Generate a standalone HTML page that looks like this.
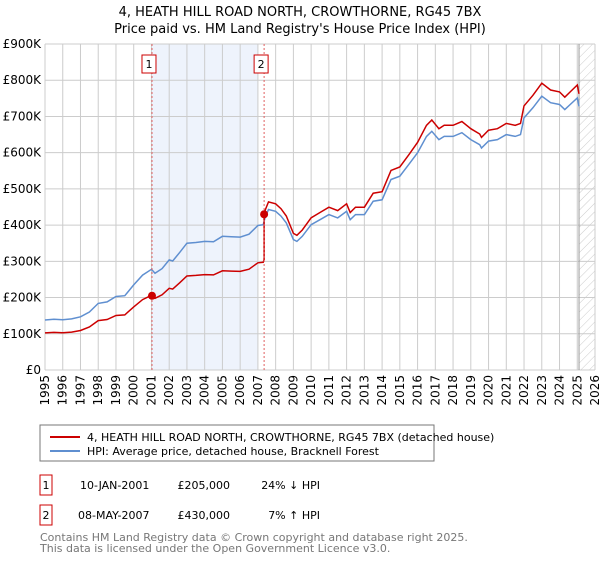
<!DOCTYPE html>
<html><head><meta charset="utf-8"><style>
body{margin:0;background:#fff;font-family:"DejaVu Sans","Liberation Sans",sans-serif;}
svg text{font-family:"DejaVu Sans","Liberation Sans",sans-serif;}
</style></head><body>
<svg id="c" width="600" height="560" xmlns="http://www.w3.org/2000/svg">
<defs><pattern id="hatch" width="6" height="6" patternUnits="userSpaceOnUse" patternTransform="rotate(45)"><line x1="0" y1="0" x2="0" y2="6" stroke="#ccc" stroke-width="1"/></pattern></defs>
<text x="300" y="16" text-anchor="middle" font-size="13">4, HEATH HILL ROAD NORTH, CROWTHORNE, RG45 7BX</text>
<text x="300" y="33" text-anchor="middle" font-size="13">Price paid vs. HM Land Registry's House Price Index (HPI)</text>
<g id="grid"></g><g id="marks"></g>
<rect x="40" y="425" width="394" height="36" fill="#fff" stroke="#777"/>
<line x1="50" y1="437" x2="80" y2="437" stroke="#cc0000" stroke-width="2"/>
<text x="87" y="441" font-size="11">4, HEATH HILL ROAD NORTH, CROWTHORNE, RG45 7BX (detached house)</text>
<line x1="50" y1="451" x2="80" y2="451" stroke="#5f8fd0" stroke-width="2"/>
<text x="87" y="455" font-size="11">HPI: Average price, detached house, Bracknell Forest</text>
<rect x="40" y="475" width="12" height="20" fill="#fff" stroke="#cc0000"/>
<text x="46" y="489" font-size="11" text-anchor="middle">1</text>
<text x="80" y="489" font-size="11">10-JAN-2001</text>
<text x="230" y="489" font-size="11" text-anchor="end">£205,000</text>
<text x="320" y="489" font-size="11" text-anchor="end">24% ↓ HPI</text>
<rect x="40" y="505" width="12" height="20" fill="#fff" stroke="#cc0000"/>
<text x="46" y="519" font-size="11" text-anchor="middle">2</text>
<text x="78" y="519" font-size="11">08-MAY-2007</text>
<text x="230" y="519" font-size="11" text-anchor="end">£430,000</text>
<text x="320" y="519" font-size="11" text-anchor="end">7% ↑ HPI</text>
<text x="40" y="541" font-size="11" fill="#777">Contains HM Land Registry data © Crown copyright and database right 2025.</text>
<text x="40" y="552" font-size="11" fill="#777">This data is licensed under the Open Government Licence v3.0.</text>
</svg>
<script>
const yTicks=[0,100,200,300,400,500,600,700,800,900];
const yTickLabels=["£0","£100K","£200K","£300K","£400K","£500K","£600K","£700K","£800K","£900K"];
const xYears=[1995,1996,1997,1998,1999,2000,2001,2002,2003,2004,2005,2006,2007,2008,2009,2010,2011,2012,2013,2014,2015,2016,2017,2018,2019,2020,2021,2022,2023,2024,2025,2026];
const hpiT=[1995,1995.5,1996,1996.5,1997,1997.5,1998,1998.5,1999,1999.5,2000,2000.5,2001,2001.2,2001.6,2002,2002.2,2002.6,2003,2003.5,2004,2004.5,2005,2005.5,2006,2006.5,2007,2007.3,2007.4,2007.6,2008,2008.3,2008.6,2009,2009.2,2009.5,2010,2010.5,2011,2011.5,2012,2012.2,2012.5,2013,2013.5,2014,2014.5,2015,2015.5,2016,2016.5,2016.8,2017.2,2017.5,2018,2018.5,2019,2019.5,2019.6,2020,2020.5,2021,2021.5,2021.8,2022,2022.5,2023,2023.5,2024,2024.3,2024.6,2025,2025.1];
const hpiV=[138,140,139,141,147,160,184,188,203,205,235,262,278,267,280,304,301,325,350,352,355,354,369,368,367,375,399,401,420,443,438,425,406,360,355,369,401,415,429,420,438,415,429,429,466,470,526,535,567,600,645,659,636,645,645,655,636,622,613,632,636,650,645,650,696,724,756,738,733,719,733,751,728];
const sales=[{t:2001.03,v:205,label:"1"},{t:2007.35,v:430,label:"2"}];
const X0=45,X1=595,Y0=370,Y1=44;
const x=t=>X0+(t-1995)*(X1-X0)/31, y=v=>Y0-v*(Y0-Y1)/900;
const NS="http://www.w3.org/2000/svg";
const mk=(tag,at,par)=>{const e=document.createElementNS(NS,tag);for(const k in at)e.setAttribute(k,at[k]);par.appendChild(e);return e;};
const G=document.getElementById('grid'),M=document.getElementById('marks');
function hpiAt(t){for(let i=1;i<hpiT.length;i++){if(t<=hpiT[i]){const f=(t-hpiT[i-1])/(hpiT[i]-hpiT[i-1]);return hpiV[i-1]+f*(hpiV[i]-hpiV[i-1]);}}return hpiV[hpiV.length-1];}
let sh=mk('rect',{x:x(sales[0].t),y:Y1,width:x(2007)-x(sales[0].t),height:Y0-Y1,fill:'#eef3fc'},G);

let ht=mk('rect',{x:x(2025.1),y:Y1,width:X1-x(2025.1),height:Y0-Y1,fill:'url(#hatch)'},G);

yTicks.forEach((v,i)=>{let l=mk('line',{x1:X0,x2:X1,y1:y(v),y2:y(v),stroke:'#ccc'},G);

let t=mk('text',{x:X0-4,y:y(v)+4,'text-anchor':'end','font-size':'12'},G);t.textContent=yTickLabels[i];
});
xYears.forEach(yr=>{let l=mk('line',{x1:x(yr),x2:x(yr),y1:Y1,y2:Y0,stroke:'#ccc'},G);

let t=mk('text',{x:0,y:0,'text-anchor':'end','font-size':'12',transform:`translate(${x(yr)+4},${Y0+5}) rotate(-90)`},G);t.textContent=yr;
});
let vl=mk('line',{x1:x(2025.1),x2:x(2025.1),y1:Y1,y2:Y0,stroke:'#999'},G);

// HPI line
let hp=mk('path',{d:hpiT.map((t,i)=>(i?'L':'M')+x(t).toFixed(1)+','+y(hpiV[i]).toFixed(1)).join(''),fill:'none',stroke:'#5f8fd0','stroke-width':1.5},M);

// Price line indexed from sales
let pts=[];
hpiT.forEach((t,i)=>{const s=t<sales[1].t?sales[0]:sales[1];const r=s.v/hpiAt(s.t);
if(i>0&&hpiT[i-1]<sales[1].t&&t>=sales[1].t){pts.push([sales[1].t,hpiAt(sales[1].t)*sales[0].v/hpiAt(sales[0].t)]);pts.push([sales[1].t,sales[1].v]);}
pts.push([t,hpiV[i]*r]);});
let pp=mk('path',{d:pts.map((p,i)=>(i?'L':'M')+x(p[0]).toFixed(1)+','+y(p[1]).toFixed(1)).join(''),fill:'none',stroke:'#cc0000','stroke-width':1.5},M);

sales.forEach(s=>{let d=mk('line',{x1:x(s.t),x2:x(s.t),y1:Y1,y2:Y0,stroke:'#e06060','stroke-dasharray':'2,2'},M);

let c=mk('circle',{cx:x(s.t),cy:y(s.v),r:4,fill:'#cc0000'},M);

let b=mk('rect',{x:x(s.t)-10,y:55,width:14,height:18,fill:'#fff',stroke:'#cc0000'},M);

let t=mk('text',{x:x(s.t)-3,y:68,'text-anchor':'middle','font-size':'11'},M);t.textContent=s.label;
});
</script>
</body></html>
